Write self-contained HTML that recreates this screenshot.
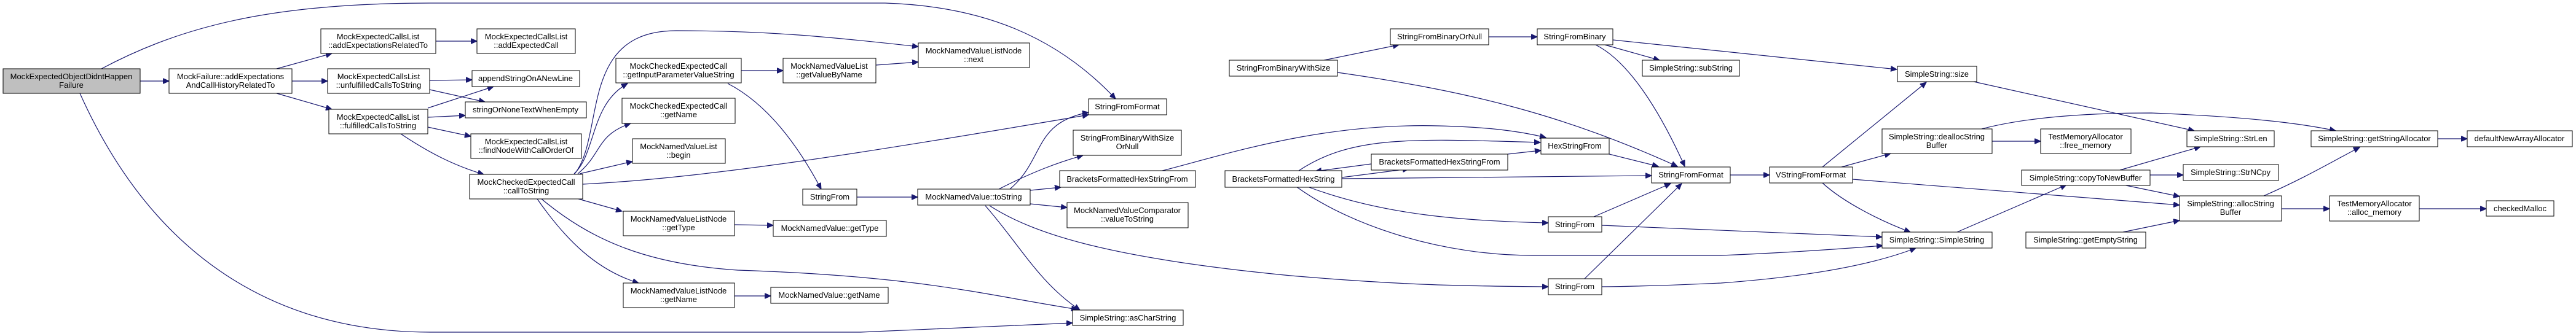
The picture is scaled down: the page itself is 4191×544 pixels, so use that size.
<!DOCTYPE html>
<html><head><meta charset="utf-8"><style>
html,body{margin:0;padding:0;background:#fff;}
svg{display:block;}
text{font-family:"Liberation Sans",sans-serif;font-size:13px;fill:#000;text-anchor:middle;}
rect{fill:#fff;stroke:#000;stroke-width:1;}
path{fill:none;stroke:#191970;stroke-width:1.2;}
</style></head><body>
<svg width="4191" height="544" viewBox="0 0 4191 544" xmlns="http://www.w3.org/2000/svg">
<defs><marker id="a" markerUnits="userSpaceOnUse" markerWidth="11" markerHeight="9" refX="10" refY="4.5" orient="auto"><path d="M0,0 L10,4.5 L0,9 Z" style="fill:#191970;stroke:#191970;stroke-width:1"/></marker></defs>
<g marker-end="url(#a)">
<path d="M228,132 L275,132"/>
<path d="M165,112 C300,40 450,5 700,5 L1440,5 C1600,10 1720,60 1815,161"/>
<path d="M130,152 C250,420 450,541 700,541 L1400,541 C1550,535 1650,530 1745,526"/>
<path d="M450,112 L540,87"/>
<path d="M475,132 L533,132"/>
<path d="M450,152 L540,178"/>
<path d="M709,67 L776,67"/>
<path d="M699,131 L768,130"/>
<path d="M699,146 L789,166"/>
<path d="M696,176 L803,141"/>
<path d="M696,191 L757,188"/>
<path d="M696,207 L766,222"/>
<path d="M652,218 C700,250 740,270 787,284"/>
<path d="M934,283 C970,250 960,170 1021,136"/>
<path d="M940,283 C980,250 970,220 1026,201"/>
<path d="M943,283 L1029,263"/>
<path d="M935,283 C985,220 940,50 1100,50 C1250,50 1350,60 1494,76"/>
<path d="M948,300 C1150,290 1400,250 1771,187"/>
<path d="M941,324 L1012,344"/>
<path d="M874,324 C920,390 970,440 1039,461"/>
<path d="M881,324 C960,390 1050,430 1200,440 C1500,450 1600,480 1753,504"/>
<path d="M1394,321 L1493,321"/>
<path d="M1206,115 L1274,115"/>
<path d="M1184,136 C1250,170 1300,240 1336,308"/>
<path d="M1425,106 L1494,101"/>
<path d="M1195,366 L1258,367"/>
<path d="M1195,482 L1254,482"/>
<path d="M1643,308 C1700,260 1680,200 1771,183"/>
<path d="M1625,308 C1680,280 1720,265 1762,253"/>
<path d="M1676,310 L1726,305"/>
<path d="M1676,332 L1736,338"/>
<path d="M1603,335 C1660,400 1690,460 1757,505"/>
<path d="M1610,335 C1680,380 1800,420 2100,449 C2300,466 2400,466 2519,467"/>
<path d="M1891,278 C2000,250 2150,200 2341,205 C2420,207 2470,213 2515,224"/>
<path d="M2113,278 C2200,220 2300,226 2506,232"/>
<path d="M2453,251 L2507,245"/>
<path d="M2231,267 L2140,279"/>
<path d="M2183,289 L2292,275"/>
<path d="M2183,291 L2687,286"/>
<path d="M2127,304 C2250,350 2380,360 2519,363"/>
<path d="M2109,304 C2200,370 2350,416 2493,416 L2800,416 C2900,412 3000,405 3063,400"/>
<path d="M2154,98 L2276,73"/>
<path d="M2176,118 C2400,150 2550,190 2729,271"/>
<path d="M2422,60 L2501,60"/>
<path d="M2611,73 L2700,98"/>
<path d="M2596,73 C2650,100 2700,180 2741,271"/>
<path d="M2624,65 L3086,113"/>
<path d="M2618,251 L2698,271"/>
<path d="M2593,353 L2718,299"/>
<path d="M2606,367 L3062,386"/>
<path d="M2578,454 L2736,299"/>
<path d="M2606,467 C2700,466 2750,463 2800,461 C2950,450 3050,430 3117,404"/>
<path d="M2815,285 L2879,285"/>
<path d="M2965,272 L3134,134"/>
<path d="M2996,272 L3076,250"/>
<path d="M2965,298 C3000,330 3060,360 3108,378"/>
<path d="M3014,292 L3546,334"/>
<path d="M3211,133 L3570,213"/>
<path d="M3241,230 L3320,230"/>
<path d="M3224,210 C3300,190 3400,184 3500,184 C3650,190 3740,200 3800,213"/>
<path d="M3184,378 L3362,301"/>
<path d="M3449,277 L3580,239"/>
<path d="M3498,285 L3552,285"/>
<path d="M3454,301 L3546,320"/>
<path d="M3454,378 L3546,359"/>
<path d="M3683,319 C3750,290 3800,260 3839,240"/>
<path d="M3712,340 L3790,340"/>
<path d="M3936,340 L4045,340"/>
<path d="M3966,226 L4014,226"/>
</g>
<rect x="5" y="112" width="223" height="40" style="fill:#bfbfbf"/><text x="116" y="129">MockExpectedObjectDidntHappen</text><text x="116" y="143">Failure</text>
<rect x="275" y="112" width="200" height="40"/><text x="375" y="129">MockFailure::addExpectations</text><text x="375" y="143">AndCallHistoryRelatedTo</text>
<rect x="522" y="47" width="187" height="40"/><text x="615" y="64">MockExpectedCallsList</text><text x="615" y="78">::addExpectationsRelatedTo</text>
<rect x="533" y="112" width="166" height="40"/><text x="616" y="129">MockExpectedCallsList</text><text x="616" y="143">::unfulfilledCallsToString</text>
<rect x="535" y="178" width="161" height="40"/><text x="615" y="195">MockExpectedCallsList</text><text x="615" y="209">::fulfilledCallsToString</text>
<rect x="776" y="47" width="160" height="40"/><text x="856" y="64">MockExpectedCallsList</text><text x="856" y="78">::addExpectedCall</text>
<rect x="768" y="115" width="175" height="26"/><text x="855" y="132">appendStringOnANewLine</text>
<rect x="757" y="166" width="197" height="26"/><text x="855" y="183">stringOrNoneTextWhenEmpty</text>
<rect x="766" y="218" width="180" height="40"/><text x="856" y="235">MockExpectedCallsList</text><text x="856" y="249">::findNodeWithCallOrderOf</text>
<rect x="764" y="284" width="184" height="40"/><text x="856" y="301">MockCheckedExpectedCall</text><text x="856" y="315">::callToString</text>
<rect x="1002" y="95" width="204" height="40"/><text x="1104" y="112">MockCheckedExpectedCall</text><text x="1104" y="126">::getInputParameterValueString</text>
<rect x="1012" y="160" width="184" height="41"/><text x="1104" y="177">MockCheckedExpectedCall</text><text x="1104" y="191">::getName</text>
<rect x="1029" y="226" width="151" height="40"/><text x="1104" y="243">MockNamedValueList</text><text x="1104" y="257">::begin</text>
<rect x="1014" y="344" width="181" height="40"/><text x="1104" y="361">MockNamedValueListNode</text><text x="1104" y="375">::getType</text>
<rect x="1014" y="461" width="181" height="40"/><text x="1104" y="478">MockNamedValueListNode</text><text x="1104" y="492">::getName</text>
<rect x="1274" y="95" width="151" height="40"/><text x="1349" y="112">MockNamedValueList</text><text x="1349" y="126">::getValueByName</text>
<rect x="1306" y="308" width="88" height="26"/><text x="1350" y="325">StringFrom</text>
<rect x="1258" y="359" width="184" height="26"/><text x="1350" y="376">MockNamedValue::getType</text>
<rect x="1254" y="468" width="191" height="26"/><text x="1349" y="485">MockNamedValue::getName</text>
<rect x="1494" y="70" width="181" height="40"/><text x="1584" y="87">MockNamedValueListNode</text><text x="1584" y="101">::next</text>
<rect x="1771" y="161" width="127" height="26"/><text x="1834" y="178">StringFromFormat</text>
<rect x="1746" y="212" width="176" height="41"/><text x="1834" y="229">StringFromBinaryWithSize</text><text x="1834" y="243">OrNull</text>
<rect x="1724" y="278" width="221" height="27"/><text x="1834" y="296">BracketsFormattedHexStringFrom</text>
<rect x="1493" y="308" width="183" height="26"/><text x="1584" y="325">MockNamedValue::toString</text>
<rect x="1736" y="330" width="197" height="41"/><text x="1834" y="347">MockNamedValueComparator</text><text x="1834" y="361">::valueToString</text>
<rect x="1745" y="505" width="180" height="25"/><text x="1835" y="522">SimpleString::asCharString</text>
<rect x="2000" y="98" width="176" height="26"/><text x="2088" y="115">StringFromBinaryWithSize</text>
<rect x="1993" y="278" width="190" height="27"/><text x="2088" y="296">BracketsFormattedHexString</text>
<rect x="2262" y="47" width="160" height="26"/><text x="2342" y="64">StringFromBinaryOrNull</text>
<rect x="2501" y="47" width="123" height="26"/><text x="2562" y="64">StringFromBinary</text>
<rect x="2672" y="98" width="158" height="26"/><text x="2751" y="115">SimpleString::subString</text>
<rect x="2507" y="225" width="111" height="26"/><text x="2562" y="242">HexStringFrom</text>
<rect x="2231" y="251" width="222" height="26"/><text x="2342" y="268">BracketsFormattedHexStringFrom</text>
<rect x="2687" y="272" width="128" height="26"/><text x="2751" y="289">StringFromFormat</text>
<rect x="2519" y="353" width="87" height="25"/><text x="2562" y="370">StringFrom</text>
<rect x="2519" y="454" width="87" height="26"/><text x="2562" y="471">StringFrom</text>
<rect x="3087" y="108" width="129" height="25"/><text x="3151" y="125">SimpleString::size</text>
<rect x="3062" y="210" width="179" height="40"/><text x="3151" y="227">SimpleString::deallocString</text><text x="3151" y="241">Buffer</text>
<rect x="3320" y="210" width="147" height="40"/><text x="3393" y="227">TestMemoryAllocator</text><text x="3393" y="241">::free_memory</text>
<rect x="2879" y="272" width="135" height="26"/><text x="2946" y="289">VStringFromFormat</text>
<rect x="3289" y="277" width="209" height="25"/><text x="3393" y="294">SimpleString::copyToNewBuffer</text>
<rect x="3062" y="378" width="179" height="26"/><text x="3151" y="395">SimpleString::SimpleString</text>
<rect x="3296" y="378" width="195" height="26"/><text x="3393" y="395">SimpleString::getEmptyString</text>
<rect x="3558" y="213" width="142" height="26"/><text x="3629" y="230">SimpleString::StrLen</text>
<rect x="3552" y="268" width="155" height="26"/><text x="3629" y="285">SimpleString::StrNCpy</text>
<rect x="3546" y="319" width="166" height="41"/><text x="3629" y="336">SimpleString::allocString</text><text x="3629" y="350">Buffer</text>
<rect x="3760" y="213" width="206" height="26"/><text x="3863" y="230">SimpleString::getStringAllocator</text>
<rect x="4014" y="213" width="171" height="26"/><text x="4099" y="230">defaultNewArrayAllocator</text>
<rect x="3790" y="319" width="146" height="41"/><text x="3863" y="336">TestMemoryAllocator</text><text x="3863" y="350">::alloc_memory</text>
<rect x="4045" y="327" width="110" height="25"/><text x="4100" y="344">checkedMalloc</text>
</svg>
</body></html>
